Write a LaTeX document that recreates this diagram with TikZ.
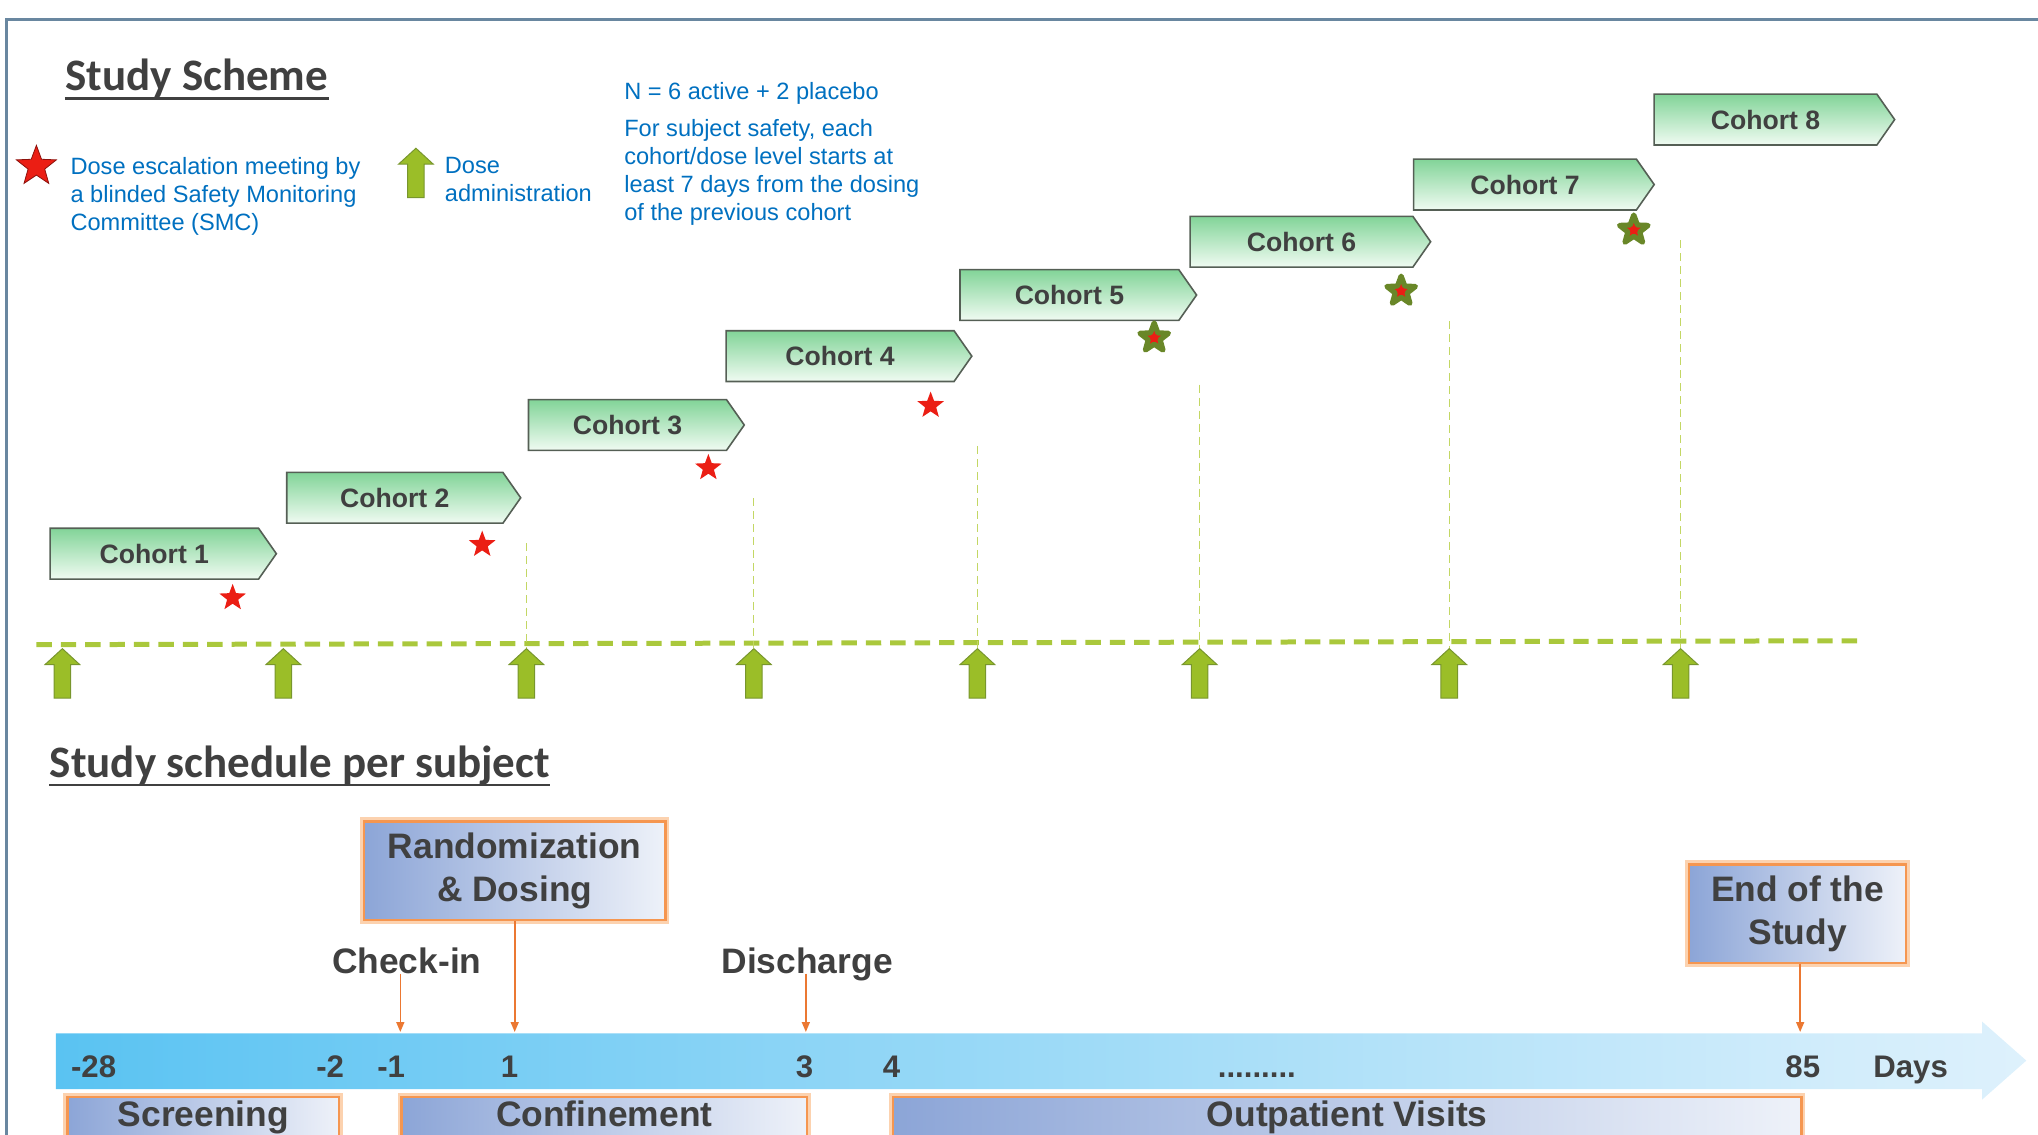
\documentclass[tikz,border=0pt]{standalone}
\usepackage{fontspec}
\setmainfont{Liberation Sans}
\newfontfamily\titlefont{Carlito}
\usetikzlibrary{arrows.meta,shapes,positioning}

\definecolor{legendblue}{RGB}{0,112,192}
\definecolor{labelgrey}{RGB}{64,64,64}
\definecolor{framegrey}{RGB}{105,135,160}
\definecolor{dosegreen}{RGB}{155,190,40}
\definecolor{dosedark}{RGB}{120,150,45}
\definecolor{dashgreen}{RGB}{170,200,60}
\definecolor{thingreen}{RGB}{195,215,100}
\definecolor{cohorttop}{RGB}{130,212,152}
\definecolor{cohortbot}{RGB}{240,251,242}
\definecolor{cohortedge}{RGB}{85,95,85}
\definecolor{starred}{RGB}{235,30,20}
\definecolor{stargreen}{RGB}{105,135,40}
\definecolor{boxblue}{RGB}{140,165,215}
\definecolor{boxorange}{RGB}{245,150,80}
\definecolor{boxglow}{RGB}{252,210,175}
\definecolor{tlleft}{RGB}{90,195,242}
\definecolor{tlright}{RGB}{222,241,252}
\definecolor{tickorange}{RGB}{235,120,50}

\tikzset{
  cohort/.style={signal, signal to=east, signal pointer angle=110, anchor=west,
    draw=cohortedge, line width=0.8pt, top color=cohorttop, bottom color=cohortbot,
    minimum width=117pt, minimum height=25.4pt, inner sep=0pt,
    font=\fontsize{13.3}{16}\selectfont\bfseries, text=labelgrey},
  smcstar/.style={star, star points=5, star point ratio=2.4, fill=starred,
    minimum size=14pt, inner sep=0pt},
  latestar/.style={smcstar, draw=stargreen, line width=2.6pt, line join=round, minimum size=15pt},
  doseup/.style={single arrow, shape border rotate=90, fill=dosegreen, draw=dosedark,
    line width=0.5pt, minimum height=24.7pt, inner sep=3.9pt,
    single arrow head extend=4.5pt, single arrow tip angle=95},
  doseline/.style={dashgreen, line width=2.5pt, dash pattern=on 7.7pt off 4.5pt},
  guide/.style={thingreen, line width=0.6pt, dash pattern=on 4pt off 2.5pt},
  legendtext/.style={align=left, anchor=north west, inner sep=0pt, text=legendblue,
    font=\fontsize{11.8}{14}\selectfont},
  sectiontitle/.style={anchor=base west, inner sep=0pt, text=labelgrey,
    font=\fontsize{22.5}{26}\selectfont\titlefont\bfseries},
  titleline/.style={labelgrey, line width=1.2pt},
  phasebox/.style={draw=boxorange, line width=1.2pt, preaction={draw=boxglow, line width=4pt},
    left color=boxblue, right color=boxblue!15, align=center, inner sep=0pt,
    font=\fontsize{17.7}{21.5}\selectfont\bfseries, text=labelgrey},
  phasebar/.style={phasebox, anchor=north west, inner xsep=0pt, inner ysep=2pt,
    text height=13pt, text depth=10pt},
  eventlabel/.style={inner sep=0pt, anchor=base, text=labelgrey,
    font=\fontsize{17.7}{21}\selectfont\bfseries},
  daylabel/.style={inner sep=0pt, anchor=base, text=labelgrey,
    font=\fontsize{15.6}{18}\selectfont\bfseries},
  tickarrow/.style={tickorange, line width=0.8pt, -{Triangle[length=5pt,width=4pt]}}
}

\begin{document}
\begin{tikzpicture}[x=0.65pt, y=-0.65pt]
  \useasboundingbox (0,0) rectangle (1568,873);
  \clip (0,0) rectangle (1568,873);

  % frame
  \draw[framegrey, line width=1.3pt] (1570,15) -- (5,15) -- (5,880);

  % study scheme
  \node[sectiontitle] (scheme) at (50,70) {Study Scheme};
  \draw[titleline] (scheme.south west) -- (scheme.south east);

  \node[smcstar, minimum size=21pt, draw=starred!60!black, line width=0.4pt] (legstar) at (28,128) {};
  \node[legendtext] (legstartext) at (54,121) {Dose escalation meeting by\\a blinded Safety Monitoring\\Committee (SMC)};
  \node[doseup] (legup) at (320,136) {};
  \node[legendtext] (leguptext) at (342,121) {Dose\\administration};
  \node[legendtext] (ncount) at (480,63) {N = 6 active + 2 placebo};
  \node[legendtext, below=7pt of ncount.south west, anchor=north west] (safety)
    {For subject safety, each\\cohort/dose level starts at\\least 7 days from the dosing\\of the previous cohort};

  % cohorts
  \node[cohort, minimum width=113.1pt] (c1) at (38,426) {Cohort 1};
  \node[cohort] (c2) at (220,383) {Cohort 2};
  \node[cohort, minimum width=107.9pt] (c3) at (406,327) {Cohort 3};
  \node[cohort, minimum width=122.9pt] (c4) at (558,274) {Cohort 4};
  \node[cohort, minimum width=118.3pt] (c5) at (738,227) {Cohort 5};
  \node[cohort, minimum width=120.3pt] (c6) at (915,186) {Cohort 6};
  \node[cohort, minimum width=120.3pt] (c7) at (1087,142) {Cohort 7};
  \node[cohort, minimum width=120.3pt] (c8) at (1272,92) {Cohort 8};

  % safety meetings
  \node[smcstar] (s1) at (179,460) {};
  \node[smcstar] (s2) at (371,419) {};
  \node[smcstar] (s3) at (545,360) {};
  \node[smcstar] (s4) at (716,312) {};
  \node[latestar] (s5) at (888,260) {};
  \node[latestar] (s6) at (1078,224) {};
  \node[latestar] (s7) at (1257,177) {};

  % dosing days
  \draw[doseline] (28,496) -- (1432,493);
  \node[doseup] (up1) at (48,521) {};
  \node[doseup] (up2) at (218,521) {};
  \node[doseup] (up3) at (405,521) {};
  \node[doseup] (up4) at (580,521) {};
  \node[doseup] (up5) at (752,521) {};
  \node[doseup] (up6) at (923,521) {};
  \node[doseup] (up7) at (1115,521) {};
  \node[doseup] (up8) at (1293,521) {};
  \coordinate (v3) at (405,418);
  \coordinate (v4) at (580,383);
  \coordinate (v5) at (752,343);
  \coordinate (v6) at (923,296);
  \coordinate (v7) at (1115,247);
  \coordinate (v8) at (1293,185);
  \draw[guide] (v3) -- (up3.tip);
  \draw[guide] (v4) -- (up4.tip);
  \draw[guide] (v5) -- (up5.tip);
  \draw[guide] (v6) -- (up6.tip);
  \draw[guide] (v7) -- (up7.tip);
  \draw[guide] (v8) -- (up8.tip);

  % schedule per subject
  \node[sectiontitle] (schedule) at (38,598) {Study schedule per subject};
  \draw[titleline] (schedule.south west) -- (schedule.south east);

  \node[phasebox, minimum width=150.8pt, minimum height=49.4pt] (rand) at (396,670) {Randomization\\\& Dosing};
  \node[phasebox, minimum width=108.6pt, minimum height=49.4pt] (endstudy) at (1383,703) {End of the\\Study};
  \node[eventlabel] (checkin) at (313,749) {Check-in};
  \node[eventlabel] (discharge) at (621,749) {Discharge};

  % time line
  \shade[left color=tlleft, right color=tlright] (43,795) -- (1525,795) -- (1525,786) -- (1559,816)
    -- (1525,846) -- (1525,838) -- (43,838) -- cycle;
  \coordinate (tcheck) at (308,794);
  \coordinate (trand) at (396,794);
  \coordinate (tdis) at (620,794);
  \coordinate (tend) at (1385,794);
  \draw[tickarrow] (checkin.base -| tcheck) -- (tcheck);
  \draw[tickarrow] (rand.south -| trand) -- (trand);
  \draw[tickarrow] (discharge.base -| tdis) -- (tdis);
  \draw[tickarrow] (endstudy.south -| tend) -- (tend);

  \node[daylabel] (d28) at (72,829) {-28};
  \node[daylabel] (d2) at (254,829) {-2};
  \node[daylabel] (d1) at (301,829) {-1};
  \node[daylabel] (p1) at (392,829) {1};
  \node[daylabel] (p3) at (619,829) {3};
  \node[daylabel] (p4) at (686,829) {4};
  \node[daylabel] (dots) at (967,829) {.........};
  \node[daylabel] (p85) at (1387,829) {85};
  \node[daylabel] (days) at (1470,829) {Days};

  % phases
  \node[phasebar, minimum width=135.9pt] (screening) at (51,843) {Screening};
  \node[phasebar, minimum width=202.8pt] (confinement) at (308,843) {Confinement};
  \node[phasebar, minimum width=454.4pt] (outpatient) at (686,843) {Outpatient Visits};
\end{tikzpicture}
\end{document}
